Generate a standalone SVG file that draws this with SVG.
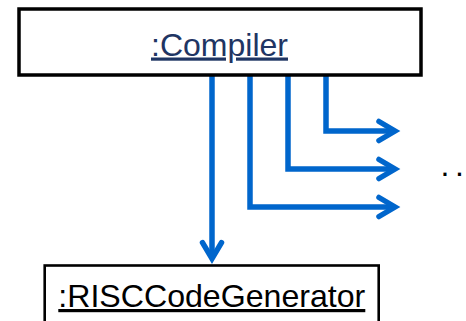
<svg xmlns="http://www.w3.org/2000/svg" width="466" height="321" viewBox="0 0 466 321">
<defs>
<style>
.box{fill:#fff;stroke:#000}
.lbl{font-family:"Liberation Sans",Arial,sans-serif;font-size:32px;text-decoration:underline}
.conn{fill:none;stroke:#0066CC;stroke-width:5.5;stroke-linejoin:miter;marker-end:url(#chev)}
</style>
<marker id="chev" markerUnits="userSpaceOnUse" orient="auto" markerWidth="40" markerHeight="40" refX="0" refY="0" viewBox="-25 -20 40 40" overflow="visible">
<path d="M-16,-9.5 L0,0 L-16,9.5" fill="none" stroke="#0066CC" stroke-width="5.5" stroke-linecap="round" stroke-linejoin="miter"/>
</marker>
</defs>
<rect width="466" height="321" fill="#fff"/>
<g id="connectors">
<path class="conn" d="M212,76 V258.6"/>
<path class="conn" d="M250,76 V207 H395"/>
<path class="conn" d="M288,76 V169 H395"/>
<path class="conn" d="M326,76 V131 H395"/>
</g>
<g id="compiler">
<rect class="box" x="19" y="9" width="402" height="66" stroke-width="3.5"/>
<text class="lbl" x="151" y="55.5" textLength="137" lengthAdjust="spacingAndGlyphs" fill="#1f3563">:Compiler</text>
</g>
<g id="riscgen">
<rect class="box" x="44.7" y="265.5" width="334" height="70" stroke-width="2.6"/>
<text class="lbl" x="58.3" y="307" textLength="307" lengthAdjust="spacingAndGlyphs" fill="#000">:RISCCodeGenerator</text>
</g>
<text x="440.5" y="176" font-family="Liberation Sans,Arial,sans-serif" font-size="32" letter-spacing="5.6" fill="#000">...</text>
</svg>
